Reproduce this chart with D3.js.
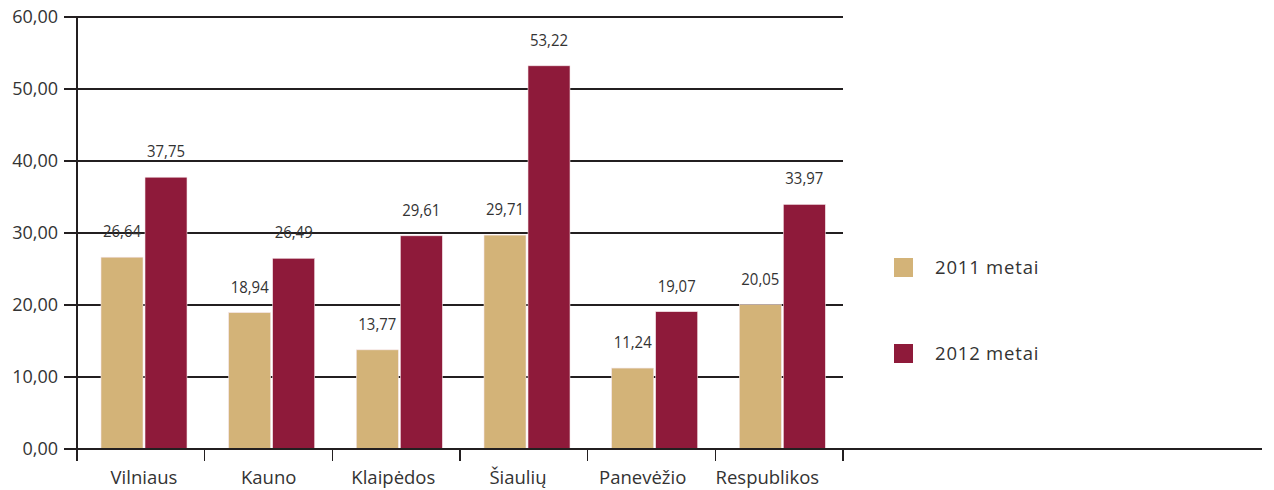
<!DOCTYPE html>
<html lang="lt">
<head>
<meta charset="utf-8" />
<script src="https://cdn.jsdelivr.net/npm/d3@7"></script>
<style>
  body { margin: 0; background: #fff; font-family: 'Open Sans', sans-serif; }
  .cat, .legend text { fill: #333; font-size: 18.5px; }
  .ytick { fill: #333; font-size: 18px; }
  .val { fill: #333; font-size: 17px; font-family: 'Open Sans', sans-serif; }
  line { shape-rendering: crispEdges; }
</style>
</head>
<body>
<div id="chart"></div>
<script>
// data
var categories = ["Vilniaus", "Kauno", "Klaipėdos", "Šiaulių", "Panevėžio", "Respublikos"];
var series = ["2011 metai", "2012 metai"];
var values2011 = [26.64, 18.94, 13.77, 29.71, 11.24, 20.05];
var values2012 = [37.75, 26.49, 29.61, 53.22, 19.07, 33.97];
var yTicks = [0, 10, 20, 30, 40, 50, 60];
var colors = ["#d3b378", "#8e1a3a"];

var width = 1274, height = 490;
var plotLeft = 77, plotRight = 843, plotTop = 17, plotBottom = 449;

var svg = d3.select('#chart')
  .append('svg')
  .attr('width', width)
  .attr('height', height);

var x = d3.scaleBand()
  .domain(categories)
  .range([plotLeft, plotRight]);

var y = d3.scaleLinear()
  .domain([0, 60])
  .range([plotBottom, plotTop]);

var fmt = function(v) { return d3.format('.2f')(v).replace('.', ','); };

// grid lines
svg.append('g')
  .selectAll('line')
  .data(yTicks.slice(1))
  .enter()
  .append('line')
  .attr('x1', plotLeft - 13)
  .attr('x2', plotRight)
  .attr('y1', function(d) { return y(d); })
  .attr('y2', function(d) { return y(d); })
  .attr('stroke', '#231f20')
  .attr('stroke-width', 1.5);

// y axis labels
svg.append('g')
  .selectAll('text')
  .data(yTicks)
  .enter()
  .append('text')
  .attr('class', 'ytick')
  .attr('x', plotLeft - 19)
  .attr('y', function(d) { return y(d); })
  .attr('dy', '0.35em')
  .attr('text-anchor', 'end')
  .text(fmt);

// bars
var barW = 42, gap = 2, pad = 24;
var groups = svg.selectAll('.grp')
  .data(categories)
  .enter()
  .append('g')
  .attr('class', 'grp')
  .attr('transform', function(d) { return 'translate(' + x(d) + ',0)'; });

[values2011, values2012].forEach(function(vals, s) {
  groups.append('rect')
    .attr('x', pad + s * (barW + gap))
    .attr('y', function(d, i) { return y(vals[i]); })
    .attr('width', barW)
    .attr('height', function(d, i) { return plotBottom - y(vals[i]); })
    .attr('fill', colors[s])
    .attr('stroke', '#f3e3e6')
    .attr('stroke-width', 0.6);

  groups.append('text')
    .attr('class', 'val')
    .attr('x', pad + s * (barW + gap) + barW / 2)
    .attr('y', function(d, i) { return y(vals[i]) - 26; })
    .attr('dy', '0.35em')
    .attr('text-anchor', 'middle')
    .attr('textLength', 38)
    .attr('lengthAdjust', 'spacingAndGlyphs')
    .text(function(d, i) { return fmt(vals[i]); });
});

// axes lines
svg.append('line')
  .attr('x1', plotLeft).attr('x2', plotLeft)
  .attr('y1', plotTop).attr('y2', plotBottom + 12)
  .attr('stroke', '#231f20').attr('stroke-width', 2);

svg.append('line')
  .attr('x1', plotLeft - 13).attr('x2', 1262)
  .attr('y1', plotBottom).attr('y2', plotBottom)
  .attr('stroke', '#231f20').attr('stroke-width', 2);

var tickXs = categories.map(function(c) { return x(c) + x.bandwidth(); });
svg.append('g')
  .selectAll('line')
  .data(tickXs)
  .enter()
  .append('line')
  .attr('x1', function(d) { return d; })
  .attr('x2', function(d) { return d; })
  .attr('y1', plotBottom)
  .attr('y2', plotBottom + 12)
  .attr('stroke', '#231f20')
  .attr('stroke-width', 1.5);

// category labels
svg.append('g')
  .selectAll('text')
  .data(categories)
  .enter()
  .append('text')
  .attr('class', 'cat')
  .attr('x', function(d, i) { return x(d) + pad + barW + gap / 2 - i * 3; })
  .attr('y', 484)
  .attr('text-anchor', 'middle')
  .text(function(d) { return d; });

// legend
var legend = svg.selectAll('.legend')
  .data(series)
  .enter()
  .append('g')
  .attr('class', 'legend')
  .attr('transform', function(d, i) { return 'translate(894,' + (258 + i * 86) + ')'; });

legend.append('rect')
  .attr('width', 19)
  .attr('height', 19)
  .attr('fill', function(d, i) { return colors[i]; });

legend.append('text')
  .attr('x', 41)
  .attr('y', 10)
  .attr('dy', '0.35em')
  .style('letter-spacing', '0.8px')
  .text(function(d) { return d; });
</script>
</body>
</html>
